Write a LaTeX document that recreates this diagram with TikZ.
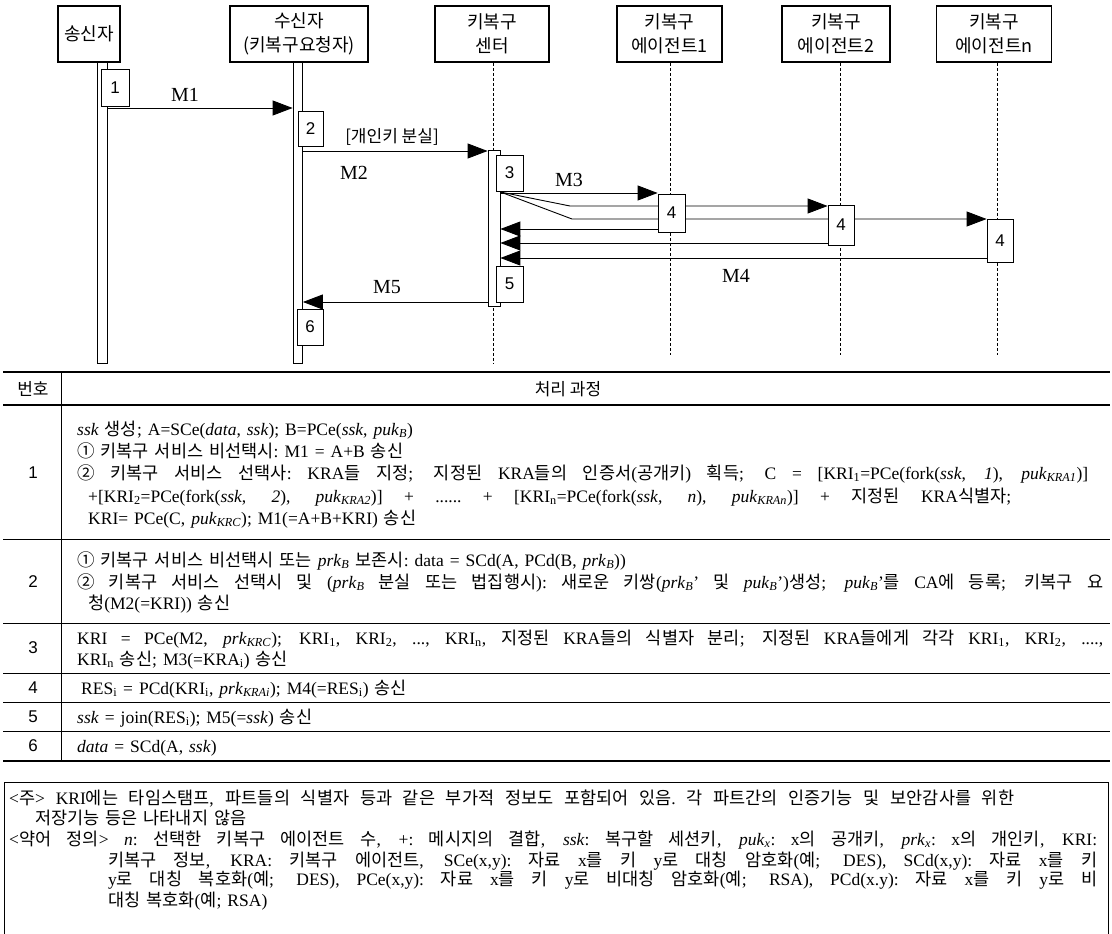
\documentclass[tikz,border=0pt]{standalone}
\usepackage{fontspec}
\setmainfont{Liberation Serif}
\setsansfont{Liberation Sans}
\newfontfamily\krfont{Noto Sans CJK KR}
\usetikzlibrary{arrows.meta}
\pgfdeclarelayer{bg}
\pgfsetlayers{bg,main}

\newcommand\K[1]{{\krfont #1}}
\newcommand\hbf{\fontsize{18}{24}\selectfont\krfont}
\newcommand\kbf{\fontsize{17}{17}\selectfont\krfont}
\newcommand\nbf{\sffamily\fontsize{17}{17}\selectfont}
\newcommand\mbf{\fontsize{20}{20}\selectfont}
\newcommand\tbf{\fontsize{17.5}{21}\selectfont\spaceskip=6pt plus 1fil\xspaceskip=6pt plus 1fil\relax}
\newcommand\ti[1]{\textit{#1}}
\newcommand\sbt[1]{\textsubscript{#1}}
\newcommand\jl[2]{\hbox to #1pt{#2}}

\begin{document}
\begin{tikzpicture}[x=1pt,y=-1pt,
  hdr/.style={draw, line width=1.8pt, fill=white, inner sep=0pt, minimum height=56pt, align=center, font=\hbf},
  act/.style={draw, fill=white, line width=0.8pt, inner sep=0pt, font=\nbf},
  barbox/.style={draw, fill=white, line width=0.8pt, inner sep=0pt},
  life/.style={line width=0.7pt, dash pattern=on 3pt off 2pt},
  msg/.style={line width=0.9pt, -{Triangle[length=20pt,width=15pt]}},
  mlbl/.style={inner sep=0pt, font=\mbf},
  tx/.style={anchor=base west, inner sep=0pt, font=\tbf},
  rownum/.style={anchor=center, inner sep=0pt, font=\nbf},
  thinrule/.style={line width=0.7pt},
  thickrule/.style={line width=1.6pt}]
\begin{pgfonlayer}{bg}
\fill[white] (0,0) rectangle (1112,934);
\end{pgfonlayer}
\path[use as bounding box] (0,0) rectangle (1112,934);

% ---------- participants ----------
\node[hdr, minimum width=62pt]  (hs)  at (89,34)    {송신자};
\node[hdr, minimum width=138pt] (hr)  at (299,34)   {수신자\\(키복구요청자)};
\node[hdr, minimum width=114pt] (hc)  at (492,34)   {키복구\\센터};
\node[hdr, minimum width=105pt] (ha1) at (669.5,34) {키복구\\에이전트1};
\node[hdr, minimum width=108pt] (ha2) at (836,34)   {키복구\\에이전트2};
\node[hdr, minimum width=115pt] (han) at (994,34)   {키복구\\에이전트n};

\coordinate (lc) at (493,363);
\coordinate (l1) at (670,355);
\coordinate (l2) at (840,355);
\coordinate (ln) at (997,355);

% activation bars
\node[barbox, minimum width=10pt,  minimum height=301pt] (sbar) at (102.5,212.5) {};
\node[barbox, minimum width=9.5pt, minimum height=301pt] (rbar) at (297.75,212.5) {};
\node[barbox, minimum width=12pt,  minimum height=156pt] (cbar) at (494,228) {};

% activation boxes
\node[act, minimum width=28pt, minimum height=37pt] (b1)  at (115,87.5)  {1};
\node[act, minimum width=25pt, minimum height=35pt] (b2)  at (310.5,128.5) {2};
\node[act, minimum width=27pt, minimum height=36pt] (b3)  at (509.5,173) {3};
\node[act, minimum width=27pt, minimum height=38pt] (b4a) at (671.5,213) {4};
\node[act, minimum width=26pt, minimum height=40pt] (b4b) at (841,225)   {4};
\node[act, minimum width=26pt, minimum height=43pt] (b4c) at (1000,240.5) {4};
\node[act, minimum width=27pt, minimum height=36pt] (b5)  at (509.5,284) {5};
\node[act, minimum width=26pt, minimum height=36pt] (b6)  at (310,327)   {6};

\coordinate (f1) at (570,206);
\coordinate (f2) at (572,219);

\begin{pgfonlayer}{bg}
\draw[life] (hc.south -| lc) -- (lc);
\draw[life] (ha1.south -| l1) -- (l1);
\draw[life] (ha2.south -| l2) -- (l2);
\draw[life] (han.south -| ln) -- (ln);
\draw[msg] (sbar.east |- 0,108) -- (rbar.west |- 0,108);
\draw[msg] (rbar.east |- 0,151) -- (cbar.west |- 0,151);
\draw[msg] (cbar.east |- 0,193) -- (b4a.west |- 0,193);
\draw[msg] (cbar.east |- 0,192) -- (f1) -- (b4b.west |- f1);
\draw[msg] (cbar.east |- 0,192) -- (f2) -- (b4c.west |- f2);
\draw[msg] (b4a.west |- 0,229) -- (cbar.east |- 0,229);
\draw[msg] (b4b.west |- 0,243) -- (cbar.east |- 0,243);
\draw[msg] (b4c.west |- 0,258) -- (cbar.east |- 0,258);
\draw[msg] (cbar.west |- 0,302) -- (rbar.east |- 0,302);
\end{pgfonlayer}

\node[mlbl] (m1) at (185,95) {M1};
\node[inner sep=0pt, font=\kbf] (lost) at (392,137) {[개인키 분실]};
\node[mlbl] (m2) at (354,173) {M2};
\node[mlbl] (m3) at (569,180) {M3};
\node[mlbl] (m4) at (736,276) {M4};
\node[mlbl] (m5) at (387,287) {M5};

% ---------- table ----------
\draw[thickrule] (3,372) -- (1110,372);
\draw[line width=1.2pt] (3,405) -- (1110,405);
\draw[thinrule] (3,539) -- (1110,539);
\draw[thinrule] (3,623) -- (1110,623);
\draw[thinrule] (3,673) -- (1110,673);
\draw[thinrule] (3,702) -- (1110,702);
\draw[thinrule] (3,731) -- (1110,731);
\draw[thickrule] (3,761) -- (1110,761);
\draw[line width=0.8pt] (61,372) -- (61,761);

\node[inner sep=0pt, font=\kbf] (th1) at (33,389) {번호};
\node[inner sep=0pt, font=\kbf] (th2) at (568,389) {처리 과정};

\node[rownum] (n1) at (33,473) {1};
\node[tx] (r1a) at (77,435) {\ti{ssk} \K{생성}; A=SCe(\ti{data}, \ti{ssk}); B=PCe(\ti{ssk}, \ti{puk}\sbt{\ti{B}})};
\node[tx] (r1b) at (77,457) {\K{① 키복구 서비스 비선택시}: M1 = A+B \K{송신}};
\node[tx] (r1c) at (77,479) {\jl{1011}{\K{② 키복구 서비스 선택사}: KRA\K{들 지정}; \K{지정된} KRA\K{들의 인증서}(\K{공개키}) \K{획득}; C = [KRI\sbt{1}=PCe(fork(\ti{ssk}, \ti{1}), \ti{puk}\sbt{\ti{KRA1}})]}};
\node[tx] (r1d) at (88,502) {\jl{923}{+[KRI\sbt{2}=PCe(fork(\ti{ssk}, \ti{2}), \ti{puk}\sbt{\ti{KRA2}})] + ...... + [KRI\sbt{n}=PCe(fork(\ti{ssk}, \ti{n}), \ti{puk}\sbt{\ti{KRAn}})] + \K{지정된} KRA\K{식별자};}};
\node[tx] (r1e) at (88,524) {KRI= PCe(C, \ti{puk}\sbt{\ti{KRC}}); M1(=A+B+KRI) \K{송신}};

\node[rownum] (n2) at (33,582) {2};
\node[tx] (r2a) at (77,566) {\K{① 키복구 서비스 비선택시 또는} \ti{prk}\sbt{\ti{B}} \K{보존시}: data = SCd(A, PCd(B, \ti{prk}\sbt{\ti{B}}))};
\node[tx] (r2b) at (77,588) {\jl{1026}{\K{② 키복구 서비스 선택시 및} (\ti{prk}\sbt{\ti{B}} \K{분실 또는 법집행시}): \K{새로운 키쌍}(\ti{prk}\sbt{\ti{B}}’ \K{및} \ti{puk}\sbt{\ti{B}}’)\K{생성}; \ti{puk}\sbt{\ti{B}}’\K{를} CA\K{에 등록}; \K{키복구 요}}};
\node[tx] (r2c) at (88,609) {\K{청}(M2(=KRI)) \K{송신}};

\node[rownum] (n3) at (33,648) {3};
\node[tx] (r3a) at (77,644) {\jl{1026}{KRI = PCe(M2, \ti{prk}\sbt{\ti{KRC}}); KRI\sbt{1}, KRI\sbt{2}, ..., KRI\sbt{n}, \K{지정된} KRA\K{들의 식별자 분리}; \K{지정된} KRA\K{들에게 각각} KRI\sbt{1}, KRI\sbt{2}, ....,}};
\node[tx] (r3b) at (77,665) {KRI\sbt{n} \K{송신}; M3(=KRA\sbt{i}) \K{송신}};

\node[rownum] (n4) at (33,688) {4};
\node[tx] (r4a) at (81,694) {RES\sbt{i} = PCd(KRI\sbt{i}, \ti{prk}\sbt{\ti{KRAi}}); M4(=RES\sbt{i}) \K{송신}};

\node[rownum] (n5) at (33,717) {5};
\node[tx] (r5a) at (77,723) {\ti{ssk} = join(RES\sbt{i}); M5(=\ti{ssk}) \K{송신}};

\node[rownum] (n6) at (33,746) {6};
\node[tx] (r6a) at (77,752) {\ti{data} = SCd(A, \ti{ssk})};

% ---------- notes ----------
\draw[line width=0.8pt] (4,934) -- (4,782) -- (1108,782) -- (1108,934);
\node[tx] (na) at (9,804) {\jl{1005}{<\K{주}> KRI\K{에는 타임스탬프}, \K{파트들의 식별자 등과 같은 부가적 정보도 포함되어 있음}. \K{각 파트간의 인증기능 및 보안감사를 위한}}};
\node[tx] (nb) at (35,824) {\K{저장기능 등은 나타내지 않음}};
\node[tx] (nc) at (9,845) {\jl{1088}{<\K{약어 정의}> \ti{n}: \K{선택한 키복구 에이전트 수}, +: \K{메시지의 결합}, \ti{ssk}: \K{복구할 세션키}, \ti{puk}\sbt{\ti{x}}: x\K{의 공개키}, \ti{prk}\sbt{\ti{x}}: x\K{의 개인키}, KRI:}};
\node[tx] (nd) at (108,866) {\jl{989}{\K{키복구 정보}, KRA: \K{키복구 에이전트}, SCe(x,y): \K{자료} x\K{를 키} y\K{로 대칭 암호화}(\K{예}; DES), SCd(x,y): \K{자료} x\K{를 키}}};
\node[tx] (ne) at (108,885) {\jl{989}{y\K{로 대칭 복호화}(\K{예}; DES), PCe(x,y): \K{자료} x\K{를 키} y\K{로 비대칭 암호화}(\K{예}; RSA), PCd(x.y): \K{자료} x\K{를 키} y\K{로 비}}};
\node[tx] (nf) at (108,906) {\K{대칭 복호화}(\K{예}; RSA)};
\end{tikzpicture}
\end{document}
